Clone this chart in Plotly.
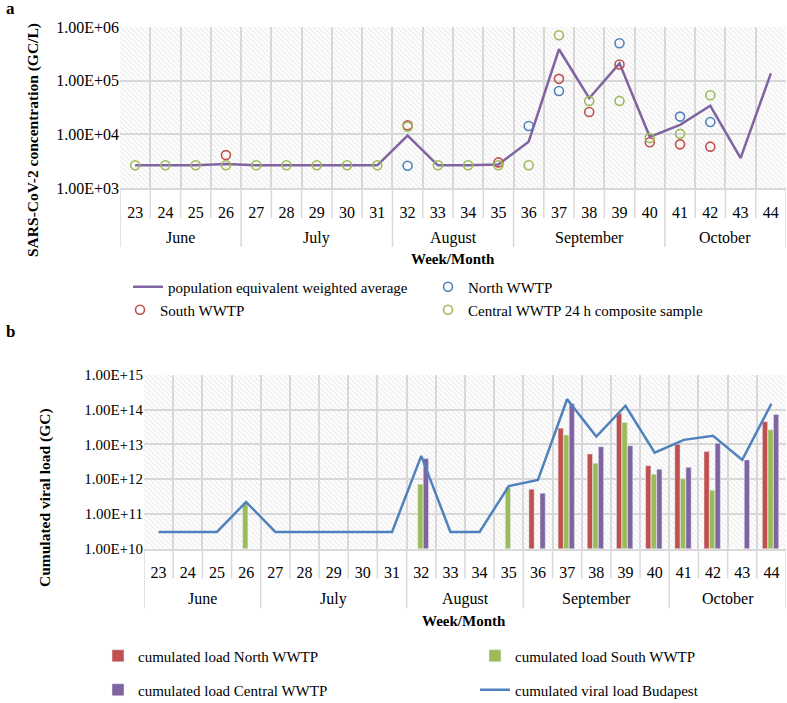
import plotly.graph_objects as go

W, H = 787, 703
FONT = "Liberation Serif"

weeks = ["23", "24", "25", "26", "27", "28", "29", "30", "31", "32", "33",
         "34", "35", "36", "37", "38", "39", "40", "41", "42", "43", "44"]
months = ["June"] * 4 + ["July"] * 5 + ["August"] * 4 + ["September"] * 5 + ["October"] * 4

# Panel a: SARS-CoV-2 concentration (GC/L)
weighted_avg = [2.65e3, 2.65e3, 2.65e3, 2.8e3, 2.65e3, 2.65e3, 2.65e3, 2.65e3, 2.65e3,
                9.5e3, 2.65e3, 2.65e3, 2.75e3, 7.3e3, 3.85e5, 4.7e4, 2.1e5, 9.0e3,
                1.5e4, 3.4e4, 3.6e3, 1.37e5]
north_conc = [None, None, None, None, None, None, None, None, None,
              2.6e3, None, None, None, 1.43e4, 6.4e4, None, 4.97e5, None,
              2.14e4, 1.7e4, None, None]
south_conc = [None, None, None, 4.1e3, None, None, None, None, None,
              1.48e4, None, None, 3.0e3, None, 1.08e5, 2.6e4, 2.0e5, 7.1e3,
              6.5e3, 5.9e3, None, None]
central_conc = [2.65e3, 2.65e3, 2.65e3, 2.65e3, 2.65e3, 2.65e3, 2.65e3, 2.65e3, 2.65e3,
                1.39e4, 2.65e3, 2.65e3, 2.65e3, 2.65e3, 7.0e5, 4.2e4, 4.2e4, 8.5e3,
                1.02e4, 5.35e4, None, None]
a_tickvals = [1e3, 1e4, 1e5, 1e6]
a_ticktext = ["1.00E+03", "1.00E+04", "1.00E+05", "1.00E+06"]

# Panel b: cumulated viral load (GC)
budapest_load = [3e10, 3e10, 3e10, 2.2e11, 3e10, 3e10, 3e10, 3e10, 3e10,
                 4.66e12, 3e10, 3e10, 6.3e11, 9.4e11, 2.0e14, 1.68e13, 1.3e14, 5.8e12,
                 1.35e13, 1.76e13, 3.57e12, 1.48e14]
north_load = [None, None, None, None, None, None, None, None, None,
              None, None, None, None, 5.1e11, 2.94e13, 5.3e12, 7.9e13, 2.44e12,
              1.01e13, 6.2e12, None, 4.47e13]
south_load = [None, None, None, 2.1e11, None, None, None, None, None,
              7.1e11, None, None, 5.8e11, None, 1.88e13, 2.86e12, 4.27e13, 1.38e12,
              1.02e12, 4.8e11, None, 2.63e13]
central_load = [None, None, None, None, None, None, None, None, None,
                3.9e12, None, None, None, 3.9e11, 1.48e14, 8.6e12, 9.2e12, 1.92e12,
                2.19e12, 1.08e13, 3.57e12, 7.26e13]
b_tickvals = [1e10, 1e11, 1e12, 1e13, 1e14, 1e15]
b_ticktext = ["1.00E+10", "1.00E+11", "1.00E+12", "1.00E+13", "1.00E+14", "1.00E+15"]

PURPLE = "#8064A2"
BLUE = "#4F81BD"
RED = "#C0504D"
GREEN = "#9BBB59"
GRID = "#d9d9d9"

N = len(weeks)


def px_x(p):
    return p / W


def px_y(p):
    return 1 - p / H


# panel geometry (pixels)
A_LEFT, A_RIGHT, A_TOP, A_BOT = 120, 786, 27, 188
B_LEFT, B_RIGHT, B_TOP, B_BOT = 144, 786, 375, 548.5

fig = go.Figure()

# hatched plot backgrounds
for xa, ya, lo, hi in (("x", "y", a_tickvals[0], a_tickvals[-1]),
                       ("x2", "y2", b_tickvals[0], b_tickvals[-1])):
    fig.add_trace(go.Bar(
        x=[weeks[0]], y=[hi - lo], base=[lo],
        offset=-0.5, width=N, xaxis=xa, yaxis=ya,
        marker=dict(color="rgba(0,0,0,0)", line=dict(width=0),
                    pattern=dict(shape="\\", fgcolor="#d2d2d2", bgcolor="rgba(0,0,0,0)",
                                 size=3.5, solidity=0.3)),
        showlegend=False, hoverinfo="skip"))

# Panel a traces
fig.add_trace(go.Scatter(x=weeks, y=weighted_avg, mode="lines", name="population equivalent weighted average",
                         line=dict(color=PURPLE, width=2.5), legend="legend"))
fig.add_trace(go.Scatter(x=weeks, y=north_conc, mode="markers", name="North WWTP",
                         marker=dict(symbol="circle-open", color=BLUE, size=9, line=dict(width=1.6)),
                         legend="legend2"))
fig.add_trace(go.Scatter(x=weeks, y=south_conc, mode="markers", name="South WWTP",
                         marker=dict(symbol="circle-open", color=RED, size=9, line=dict(width=1.6)),
                         legend="legend3"))
fig.add_trace(go.Scatter(x=weeks, y=central_conc, mode="markers", name="Central WWTP 24 h composite sample",
                         marker=dict(symbol="circle-open", color=GREEN, size=9, line=dict(width=1.6)),
                         legend="legend4"))

# Panel b traces
bw = 0.18
fig.add_trace(go.Bar(x=weeks, y=north_load, name="cumulated load North WWTP", marker_color=RED,
                     offset=-0.31, width=bw, xaxis="x2", yaxis="y2", legend="legend5"))
fig.add_trace(go.Bar(x=weeks, y=south_load, name="cumulated load South WWTP", marker_color=GREEN,
                     offset=-0.12, width=bw, xaxis="x2", yaxis="y2", legend="legend6"))
fig.add_trace(go.Bar(x=weeks, y=central_load, name="cumulated load Central WWTP", marker_color=PURPLE,
                     offset=0.07, width=bw, xaxis="x2", yaxis="y2", legend="legend7"))
fig.add_trace(go.Scatter(x=weeks, y=budapest_load, mode="lines", name="cumulated viral load Budapest",
                         line=dict(color=BLUE, width=2.5), xaxis="x2", yaxis="y2", legend="legend8"))

xaxis_common = dict(type="category", categoryorder="array", categoryarray=weeks,
                    range=[-0.5, N - 0.5], tickson="boundaries", ticks="",
                    showgrid=True, gridcolor=GRID, gridwidth=1.5,
                    showline=True, linecolor=GRID, linewidth=1.5, ticklabelstandoff=9,
                    tickfont=dict(family=FONT, size=16, color="#000"), automargin=False,
                    fixedrange=True)
yaxis_common = dict(type="log", showgrid=True, gridcolor=GRID, gridwidth=1.5, zeroline=False,
                    showline=False, ticks="", automargin=False, fixedrange=True)


def legend_at(xpx, ypx):
    return dict(x=px_x(xpx), y=px_y(ypx), xanchor="left", yanchor="middle",
                orientation="v", bgcolor="rgba(0,0,0,0)",
                font=dict(family=FONT, size=15, color="#000"),
                itemclick=False, itemdoubleclick=False)


# axis decorations: week boundary ticks, month dividers, month labels
shapes = []
annotations = []
month_starts = [i for i in range(N) if i == 0 or months[i] != months[i - 1]]
month_bounds = set(month_starts) | {N}
for xref, bot, tick_len, div_len, lab_off in (("x", A_BOT, 30, 59, 50), ("x2", B_BOT, 30, 60, 50)):
    for b in range(N + 1):
        length = div_len if b in month_bounds else tick_len
        shapes.append(dict(type="line", xref=xref, yref="paper", x0=b - 0.5, x1=b - 0.5,
                           y0=px_y(bot), y1=px_y(bot + length),
                           line=dict(color=GRID, width=1.5)))
    for k, s in enumerate(month_starts):
        e = month_starts[k + 1] - 1 if k + 1 < len(month_starts) else N - 1
        annotations.append(dict(text=months[s], x=(s + e) / 2, xref=xref, y=px_y(bot + lab_off),
                                yref="paper", showarrow=False, xanchor="center", yanchor="middle",
                                font=dict(family=FONT, size=16, color="#000")))

annotations += [
    dict(text="<b>a</b>", x=px_x(10), y=px_y(9), xref="paper", yref="paper",
         showarrow=False, font=dict(family=FONT, size=17), xanchor="center", yanchor="middle"),
    dict(text="<b>b</b>", x=px_x(10), y=px_y(331), xref="paper", yref="paper",
         showarrow=False, font=dict(family=FONT, size=17), xanchor="center", yanchor="middle"),
    dict(text="<b>SARS-CoV-2 concentration (GC/L)</b>", x=px_x(33), y=px_y(140),
         xref="paper", yref="paper", showarrow=False, textangle=-90,
         font=dict(family=FONT, size=15.5), xanchor="center", yanchor="middle"),
    dict(text="<b>Cumulated viral load (GC)</b>", x=px_x(45), y=px_y(498),
         xref="paper", yref="paper", showarrow=False, textangle=-90,
         font=dict(family=FONT, size=15.5), xanchor="center", yanchor="middle"),
    dict(text="<b>Week/Month</b>", x=px_x(453), y=px_y(259), xref="paper", yref="paper",
         showarrow=False, font=dict(family=FONT, size=15), xanchor="center", yanchor="middle"),
    dict(text="<b>Week/Month</b>", x=px_x(464), y=px_y(621), xref="paper", yref="paper",
         showarrow=False, font=dict(family=FONT, size=15), xanchor="center", yanchor="middle"),
]

fig.update_layout(
    width=W, height=H, margin=dict(l=0, r=0, t=0, b=0, autoexpand=False),
    paper_bgcolor="white", plot_bgcolor="white",
    barmode="overlay",
    font=dict(family=FONT, size=15, color="#000"),
    xaxis=dict(domain=[px_x(A_LEFT), px_x(A_RIGHT)], anchor="y", **xaxis_common),
    yaxis=dict(domain=[px_y(A_BOT), px_y(A_TOP)], anchor="x", range=[3, 6],
               tickvals=a_tickvals, ticktext=a_ticktext,
               tickfont=dict(family=FONT, size=16, color="#000"), **yaxis_common),
    xaxis2=dict(domain=[px_x(B_LEFT), px_x(B_RIGHT)], anchor="y2", **xaxis_common),
    yaxis2=dict(domain=[px_y(B_BOT), px_y(B_TOP)], anchor="x2", range=[10, 15],
                tickvals=b_tickvals, ticktext=b_ticktext,
                tickfont=dict(family=FONT, size=15, color="#000"), **yaxis_common),
    legend=legend_at(128, 287),
    legend2=legend_at(428, 287),
    legend3=legend_at(120, 310),
    legend4=legend_at(428, 310),
    legend5=legend_at(98, 656),
    legend6=legend_at(475, 656),
    legend7=legend_at(98, 690),
    legend8=legend_at(475, 690),
    showlegend=True,
    shapes=shapes,
    annotations=annotations,
)

fig.write_html("out.html", config={"displayModeBar": False},
               post_script="document.body.style.margin='0';document.body.style.overflow='hidden';")
